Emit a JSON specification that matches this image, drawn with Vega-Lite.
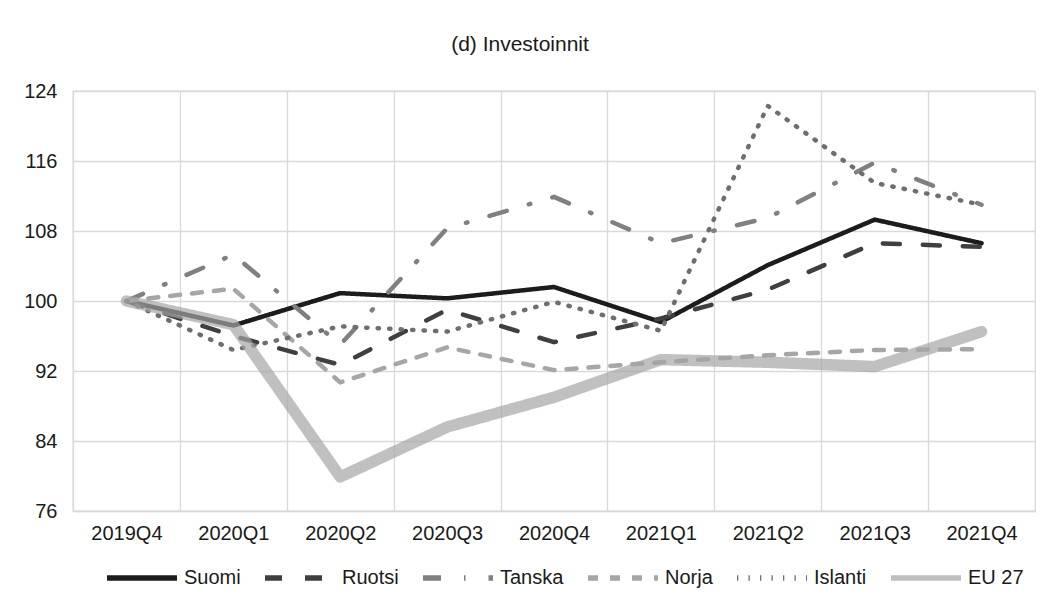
{
  "$schema": "https://vega.github.io/schema/vega-lite/v6.json",
  "autosize": "none",
  "width": 962,
  "height": 420,
  "padding": {"left": 73, "top": 91, "right": 21, "bottom": 97},
  "background": "white",
  "config": {
    "font": "Liberation Sans",
    "view": {"stroke": "#d9d9d9", "strokeWidth": 1.3},
    "axis": {"labelFont": "Liberation Sans", "labelFontSize": 20, "labelColor": "#1a1a1a", "gridColor": "#d9d9d9", "gridWidth": 1.3, "gridOpacity": 1}
  },
  "title": {"text": "(d) Investoinnit", "anchor": "middle", "frame": "group", "dx": -34, "baseline": "alphabetic", "offset": 9, "fontSize": 21, "fontWeight": "normal", "font": "Liberation Sans", "color": "#1a1a1a"},
  "data": {
    "values": [
      {"q": "2019Q4", "maa": "Suomi", "v": 100},
      {"q": "2020Q1", "maa": "Suomi", "v": 97.2},
      {"q": "2020Q2", "maa": "Suomi", "v": 100.9},
      {"q": "2020Q3", "maa": "Suomi", "v": 100.3},
      {"q": "2020Q4", "maa": "Suomi", "v": 101.6},
      {"q": "2021Q1", "maa": "Suomi", "v": 97.6},
      {"q": "2021Q2", "maa": "Suomi", "v": 104.1},
      {"q": "2021Q3", "maa": "Suomi", "v": 109.3},
      {"q": "2021Q4", "maa": "Suomi", "v": 106.6},
      {"q": "2019Q4", "maa": "Ruotsi", "v": 100},
      {"q": "2020Q1", "maa": "Ruotsi", "v": 96.0},
      {"q": "2020Q2", "maa": "Ruotsi", "v": 92.7},
      {"q": "2020Q3", "maa": "Ruotsi", "v": 99.0},
      {"q": "2020Q4", "maa": "Ruotsi", "v": 95.3},
      {"q": "2021Q1", "maa": "Ruotsi", "v": 98.0},
      {"q": "2021Q2", "maa": "Ruotsi", "v": 101.3},
      {"q": "2021Q3", "maa": "Ruotsi", "v": 106.6},
      {"q": "2021Q4", "maa": "Ruotsi", "v": 106.2},
      {"q": "2019Q4", "maa": "Tanska", "v": 100},
      {"q": "2020Q1", "maa": "Tanska", "v": 105.3},
      {"q": "2020Q2", "maa": "Tanska", "v": 95.0},
      {"q": "2020Q3", "maa": "Tanska", "v": 108.3},
      {"q": "2020Q4", "maa": "Tanska", "v": 111.9},
      {"q": "2021Q1", "maa": "Tanska", "v": 106.6},
      {"q": "2021Q2", "maa": "Tanska", "v": 109.5},
      {"q": "2021Q3", "maa": "Tanska", "v": 115.8},
      {"q": "2021Q4", "maa": "Tanska", "v": 111.0},
      {"q": "2019Q4", "maa": "Norja", "v": 100},
      {"q": "2020Q1", "maa": "Norja", "v": 101.4},
      {"q": "2020Q2", "maa": "Norja", "v": 90.7},
      {"q": "2020Q3", "maa": "Norja", "v": 94.7},
      {"q": "2020Q4", "maa": "Norja", "v": 92.1},
      {"q": "2021Q1", "maa": "Norja", "v": 93.0},
      {"q": "2021Q2", "maa": "Norja", "v": 93.8},
      {"q": "2021Q3", "maa": "Norja", "v": 94.4},
      {"q": "2021Q4", "maa": "Norja", "v": 94.5},
      {"q": "2019Q4", "maa": "Islanti", "v": 100},
      {"q": "2020Q1", "maa": "Islanti", "v": 94.4},
      {"q": "2020Q2", "maa": "Islanti", "v": 97.1},
      {"q": "2020Q3", "maa": "Islanti", "v": 96.5},
      {"q": "2020Q4", "maa": "Islanti", "v": 99.9},
      {"q": "2021Q1", "maa": "Islanti", "v": 96.6},
      {"q": "2021Q2", "maa": "Islanti", "v": 122.3},
      {"q": "2021Q3", "maa": "Islanti", "v": 113.5},
      {"q": "2021Q4", "maa": "Islanti", "v": 111.0},
      {"q": "2019Q4", "maa": "EU 27", "v": 100},
      {"q": "2020Q1", "maa": "EU 27", "v": 97.3},
      {"q": "2020Q2", "maa": "EU 27", "v": 79.9},
      {"q": "2020Q3", "maa": "EU 27", "v": 85.6},
      {"q": "2020Q4", "maa": "EU 27", "v": 89.0},
      {"q": "2021Q1", "maa": "EU 27", "v": 93.3},
      {"q": "2021Q2", "maa": "EU 27", "v": 93.0},
      {"q": "2021Q3", "maa": "EU 27", "v": 92.5},
      {"q": "2021Q4", "maa": "EU 27", "v": 96.5}
    ]
  },
  "mark": {"type": "line", "strokeCap": "round", "strokeJoin": "round"},
  "encoding": {
    "x": {
      "field": "q", "type": "ordinal", "bandPosition": 0.5,
      "scale": {"type": "band", "paddingInner": 0, "paddingOuter": 0},
      "axis": {"title": null, "labelAngle": 0, "ticks": false, "domain": true, "domainColor": "#d9d9d9", "domainWidth": 1.3, "grid": true, "tickOffset": -53.44, "labelOffset": 53.44, "labelPadding": 12}
    },
    "y": {
      "field": "v", "type": "quantitative",
      "scale": {"domain": [76, 124], "nice": false, "zero": false},
      "axis": {"title": null, "values": [76, 84, 92, 100, 108, 116, 124], "ticks": false, "domain": false, "labelPadding": 16}
    },
    "color": {
      "field": "maa", "type": "nominal",
      "scale": {"domain": ["Suomi", "Ruotsi", "Tanska", "Norja", "Islanti", "EU 27"], "range": ["#1c1c1c", "#3f3f3f", "#808080", "#a6a6a6", "#6e6e6e", "#a5a5a5"]},
      "legend": {"title": null, "orient": "none", "direction": "horizontal", "legendX": 31, "legendY": 449, "symbolType": "stroke", "symbolSize": 4900, "symbolStrokeWidth": 5.5, "labelFontSize": 20, "labelFont": "Liberation Sans", "labelColor": "#1a1a1a", "labelOffset": 4, "columnPadding": 13}
    },
    "opacity": {
      "field": "maa", "type": "nominal",
      "scale": {"type": "ordinal", "domain": ["Suomi", "Ruotsi", "Tanska", "Norja", "Islanti", "EU 27"], "range": [1, 1, 1, 1, 1, 0.7]}
    },
    "strokeDash": {
      "field": "maa", "type": "nominal",
      "scale": {"domain": ["Suomi", "Ruotsi", "Tanska", "Norja", "Islanti", "EU 27"], "range": [[1, 0], [17, 23], [18, 23, 1.5, 23], [10, 12], [1.3, 10.2], [1, 0]]}
    },
    "strokeWidth": {
      "condition": {"test": "datum.maa === 'EU 27'", "value": 11.5},
      "value": 4.5
    }
  }
}
